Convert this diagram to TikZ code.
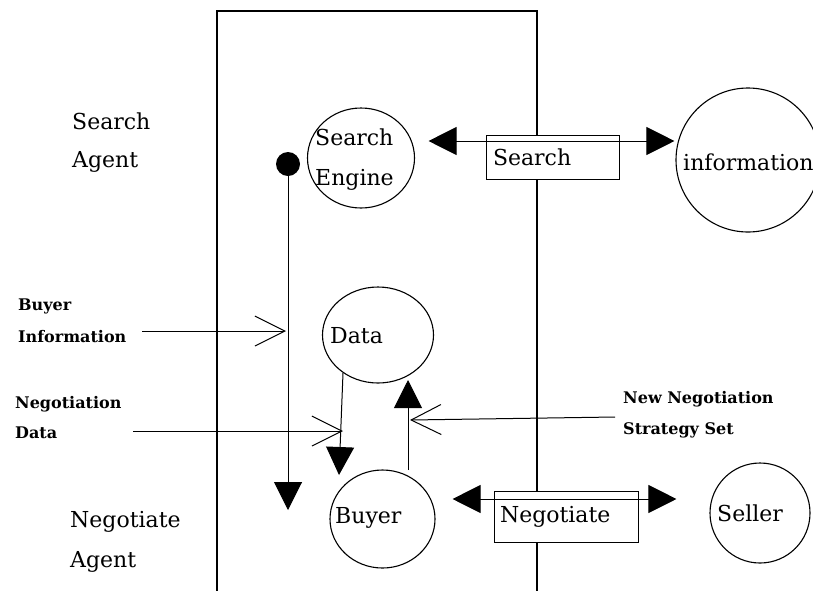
\documentclass[tikz,border=0pt]{standalone}
\usepackage{fontspec}
\setmainfont{DejaVu Serif}
\usetikzlibrary{arrows.meta,shapes.geometric,calc}
\tikzset{
  bubble/.style={ellipse, draw, line width=1.1pt, inner sep=0pt},
  lbl/.style={anchor=west, inner sep=0pt, align=left, font=\fontsize{22}{38}\selectfont},
  smalllbl/.style={anchor=west, inner sep=0pt, align=left, font=\bfseries\fontsize{16}{31}\selectfont},
  flowbox/.style={draw, fill=white, line width=1pt, align=left, font=\fontsize{22}{26}\selectfont},
  conn/.style={line width=1pt},
  tri/.style={-{Triangle[length=28pt,width=28pt]}},
  dtri/.style={{Triangle[length=28pt,width=28pt]}-{Triangle[length=28pt,width=28pt]}},
  barb/.style={-{Straight Barb[length=30pt,width=30pt]}},
}
\begin{document}
\begin{tikzpicture}[x=1pt,y=-1pt]
\useasboundingbox (0,0) rectangle (813,590);
% agent boundary
\draw[line width=1.3pt] (217,592) -- (217,11) -- (537,11) -- (537,592);

% boxes on the boundary
\node[flowbox, text width=119pt, inner xsep=7pt, minimum height=44pt] (searchbox) at (552.5,157) {Search};
\node[flowbox, text width=132pt, inner xsep=6pt, minimum height=51pt] (negbox) at (566,516.5) {Negotiate};

% bubbles
\node[bubble, minimum width=107pt, minimum height=100pt] (se) at (361,158) {};
\node[bubble, minimum width=144pt, minimum height=144pt] (info) at (748,160) {};
\node[bubble, minimum width=111pt, minimum height=96pt] (data) at (378,335) {};
\node[bubble, minimum width=105pt, minimum height=98pt] (buyer) at (382.5,519) {};
\node[bubble, minimum width=100pt, minimum height=100pt] (seller) at (760,513) {};

% bubble texts
\node[lbl, font=\fontsize{22}{40}\selectfont] (se-t) at (315,160) {Search\\Engine};
\node[lbl] (info-t) at (683,162) {information};
\node[lbl] (data-t) at (330,336) {Data};
\node[lbl] (buyer-t) at (335,518) {Buyer};
\node[lbl] (seller-t) at (717,513) {Seller};

% side labels
\node[lbl] (sagent) at (72,143) {Search\\Agent};
\node[lbl, font=\fontsize{22}{40}\selectfont] (nagent) at (70,542) {Negotiate\\Agent};
\node[smalllbl, font=\bfseries\fontsize{16}{32}\selectfont] (binfo) at (18,321) {Buyer\\Information};
\node[smalllbl, font=\bfseries\fontsize{16}{30}\selectfont] (ndata) at (15,418) {Negotiation\\Data};
\node[smalllbl] (nnss) at (623,414.5) {New Negotiation\\Strategy Set};

% search / negotiate exchanges
\draw[conn,dtri] ($(se.east)+(13.5,-17)$) -- ($(info.west)+(-1,-19)$);
\draw[conn,dtri] ($(buyer.east)+(17,-20)$) -- ($(seller.west)+(-33,-14)$);

% search agent to negotiate agent
\node[circle, fill=black, inner sep=0pt, minimum size=24pt] (dot) at (288,164) {};
\coordinate (dotend) at (288,510);
\draw[conn,tri] (dot.center) -- (dotend);

% inputs
\coordinate (bi-s) at (142,331);
\coordinate (bi-e) at (286,331);
\draw[conn,barb] (bi-s) -- (bi-e);
\coordinate (nd-s) at (133,431);
\coordinate (nd-e) at (343,431);
\draw[conn,barb] (nd-s) -- (nd-e);
\coordinate (ns-s) at (615,417);
\coordinate (ns-e) at (410,420);
\draw[conn,barb] (ns-s) -- (ns-e);

% data <-> buyer
\draw[conn,tri] ($(data.center)+(-35,38)$) -- ($(buyer.center)+(-43.5,-44)$);
\draw[conn,tri] ($(buyer.center)+(25.5,-49)$) -- ($(data.center)+(30,45)$);
\end{tikzpicture}
\end{document}
